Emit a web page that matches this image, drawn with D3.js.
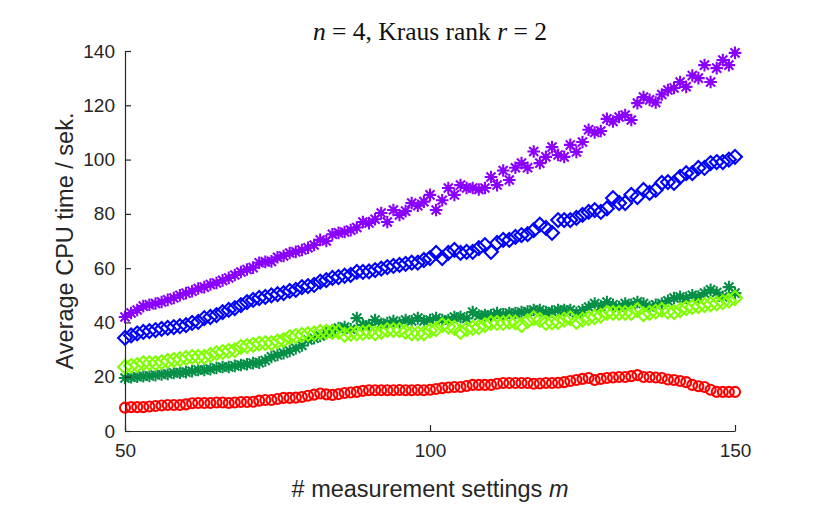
<!DOCTYPE html>
<html>
<head>
<meta charset="utf-8">
<script src="https://cdn.jsdelivr.net/npm/d3@7"></script>
<style>
    html, body { margin: 0; padding: 0; background: #fff; }
    #chart { width: 834px; height: 515px; }
</style>
</head>
<body>
<div id="chart"></div>
<script>
/**
 * Number of measurement settings m, one point per setting
 */
const settings = d3.range(50, 151);

const xTicks = [50, 100, 150];
const yTicks = [0, 20, 40, 60, 80, 100, 120, 140];

/**
 * Average CPU time (sek.) per series
 */
const purpleStars = [
    42, 43.5, 44.6, 46, 46.5, 47, 47.5, 48.3, 49, 50,
    50.8, 51.5, 52.5, 53, 54, 54.5, 55.5, 56.4, 57.5, 58.6,
    59.5, 60.2, 62, 62.3, 62.5, 64, 64.5, 65.6, 66, 66.7,
    67.5, 68.5, 70.4, 70, 72.5, 73, 73.3, 74, 75, 77,
    76.6, 78, 80.3, 77, 81.4, 79.6, 81, 84, 83, 84.5,
    87, 81.4, 85, 89.5, 87, 90.6, 89.5, 89.5, 89, 89.5,
    93.6, 90.6, 96, 92.5, 97, 98.7, 97, 103, 98.7, 101,
    104.6, 101.7, 101, 105.4, 102.8, 106.5, 111, 110, 110.5, 115,
    114, 115.7, 116.4, 114.6, 120.8, 123, 122, 121, 124, 125.6,
    126.4, 128.6, 126.8, 131, 130, 134.8, 128.6, 133.7, 136.7, 134.8,
    139.3,
];

const blueDiamonds = [
    34.3, 35.2, 36, 36.5, 36.8, 37.2, 37.6, 38, 38.3, 38.6,
    39, 39.8, 40.2, 41.6, 42, 42.7, 43.8, 44.6, 45.3, 46.4,
    47.5, 48.3, 49, 49.4, 50, 50.4, 50.8, 51.6, 52, 53,
    53.4, 53.8, 55, 55.6, 56.4, 56.7, 57.2, 57.5, 58.6, 58.6,
    58.8, 59.3, 59.8, 60.4, 60.8, 61.2, 61.6, 62, 62, 63,
    63.7, 65.6, 63.7, 65.6, 66.7, 65.6, 66, 66, 67.4, 68.5,
    66, 69.3, 70.4, 70.4, 71.5, 72.2, 72.5, 74, 76, 74.8,
    73, 77.7, 77.7, 77.7, 78.5, 79.6, 80.7, 81.4, 80.7, 82,
    85.8, 84, 84, 87, 86.2, 88.8, 87.7, 88.8, 91.4, 91.7,
    91.4, 93.6, 95, 95, 96.9, 96.9, 98.7, 99.1, 99.1, 100,
    101,
];

const darkGreenStars = [
    19.5, 19.8, 20, 20.2, 20.3, 20.6, 20.8, 21, 21.4, 21.5,
    21.7, 22, 22.5, 22.5, 22.8, 23.2, 23.6, 23.6, 24, 24.3,
    24.6, 25, 25.2, 26, 27.3, 28, 28.7, 29.5, 30.5, 31.5,
    33.5, 34.2, 35, 36, 37, 37.9, 38.3, 37.5, 41.6, 39,
    39, 40.9, 39.5, 39.8, 40.5, 39.8, 40.9, 40.5, 41.6, 40.5,
    40.9, 41.6, 40.9, 40.9, 42, 42, 41.5, 43.8, 42.5, 42.7,
    42.7, 43.5, 43, 43.5, 43.5, 43.8, 44, 44.6, 44.6, 43.8,
    44, 44.6, 44.6, 44.6, 43.5, 44.5, 45.7, 47, 46, 47.5,
    46.5, 45.7, 47, 46.5, 47.5, 47, 45.7, 46.5, 47, 48,
    49, 49.4, 49, 50, 49.5, 50.8, 52, 51, 49.4, 53,
    50.8,
];

const lightGreenDiamonds = [
    23.6, 24, 24.3, 25, 25, 25, 25.4, 25.8, 26.2, 26.5,
    26.9, 27.3, 27.3, 27.3, 28, 28.7, 29.1, 29.5, 29.8, 31,
    31.3, 31.7, 32.2, 32.4, 32.4, 33, 33.5, 34.6, 35, 35.4,
    35.7, 36, 36.5, 36.5, 36.5, 36.5, 35.4, 35.8, 36, 36.2,
    36.5, 36, 36.5, 37.2, 37.2, 37.2, 36.5, 36, 36, 36,
    37, 37.5, 39, 38.5, 38, 36.5, 37.5, 38, 38.3, 39,
    39.8, 39.8, 39.8, 40.2, 40, 39, 40.5, 41.6, 40.9, 39.8,
    40, 40.2, 41, 41.6, 40.2, 41, 41.6, 42, 42.5, 43.5,
    43.5, 43.5, 43.5, 43.5, 44.6, 43, 43.5, 44, 44.6, 44,
    43.8, 44.5, 45.3, 45.7, 46, 46.4, 46.7, 47, 47.5, 48,
    49,
];

const redCircles = [
    8.6, 8.8, 8.8, 8.8, 9, 9.2, 9.4, 9.6, 9.6, 9.6,
    9.8, 10.2, 10.3, 10.3, 10.3, 10.5, 10.5, 10.3, 10.5, 10.7,
    10.7, 10.8, 11.2, 11.4, 11.4, 11.8, 12.2, 12.2, 12.3, 12.5,
    13, 13.4, 13.8, 13.5, 13.3, 13.6, 14, 14.2, 14.4, 14.8,
    15, 15, 15, 15, 15, 15.1, 15, 15, 15.1, 15,
    15.2, 15.5, 15.8, 16, 16.2, 16.2, 16.6, 17, 17, 17,
    17, 17.4, 17.7, 17.7, 17.7, 17.7, 17.7, 17.4, 17.5, 17.7,
    17.7, 17.8, 18, 18.4, 18.8, 19.2, 19.5, 18.8, 19.2, 19.5,
    19.7, 19.9, 19.9, 20.2, 20.6, 19.9, 19.9, 19.7, 19.5, 19,
    18.8, 18.4, 18, 17, 16.5, 16.2, 15.2, 14.4, 14.4, 14.4,
    14.4,
];

/**
 * Series in drawing order, with marker shape and colour
 */
const series = [
    { values: purpleStars, marker: "star", color: "#8a00ff" },
    { values: blueDiamonds, marker: "diamond", color: "#0000ff" },
    { values: darkGreenStars, marker: "star", color: "#068f46" },
    { values: lightGreenDiamonds, marker: "diamond", color: "#80ff00" },
    { values: redCircles, marker: "circle", color: "#ff0000" },
];

const width = 834;
const height = 515;
const margin = { top: 51, right: 99, bottom: 84, left: 125 };
const axisColor = "#262626";
const sansFont = "'Liberation Sans', Arial, Helvetica, sans-serif";

const svg = d3
    .select("#chart")
    .append("svg")
    .attr("width", width)
    .attr("height", height)
    .attr("font-family", sansFont);

const x = d3
    .scaleLinear()
    .domain([50, 150])
    .range([margin.left, width - margin.right]);

const y = d3
    .scaleLinear()
    .domain([0, 140])
    .range([height - margin.bottom, margin.top]);

/**
 * Path generators for the markers, centred on 0,0
 */
const markerPaths = {
    star: (s) =>
        `M${-s},0H${s}M0,${-s}V${s}` +
        `M${-s * 0.72},${-s * 0.72}L${s * 0.72},${s * 0.72}` +
        `M${-s * 0.72},${s * 0.72}L${s * 0.72},${-s * 0.72}`,
    diamond: (s) => `M0,${-s}L${s},0L0,${s}L${-s},0Z`,
    circle: (s) => `M${s},0A${s},${s} 0 1,1 ${-s},0A${s},${s} 0 1,1 ${s},0Z`,
};

const markerSizes = { star: 6.3, diamond: 6.9, circle: 5 };

// Data markers
series.forEach((s) => {
    svg.append("g")
        .attr("fill", "none")
        .attr("stroke", s.color)
        .attr("stroke-width", 2.1)
        .selectAll("path")
        .data(s.values)
        .join("path")
        .attr("transform", (d, i) => `translate(${x(settings[i])},${y(d)})`)
        .attr("d", markerPaths[s.marker](markerSizes[s.marker]));
});

// Axes, ticks drawn inwards
const xAxis = svg
    .append("g")
    .attr("transform", `translate(0,${y(0)})`)
    .call(d3.axisBottom(x).tickValues(xTicks).tickSizeInner(-6).tickSizeOuter(0).tickPadding(13));

const yAxis = svg
    .append("g")
    .attr("transform", `translate(${x(50)},0)`)
    .call(d3.axisLeft(y).tickValues(yTicks).tickSizeInner(-6).tickSizeOuter(0).tickPadding(10));

[xAxis, yAxis].forEach((axis) => {
    axis.attr("font-family", sansFont).attr("font-size", 19);
    axis.select(".domain").attr("stroke", axisColor).attr("stroke-width", 1.2);
    axis.selectAll(".tick line").attr("stroke", axisColor).attr("stroke-width", 1.2);
    axis.selectAll(".tick text").attr("fill", axisColor);
});

// Axis labels
const xLabel = svg
    .append("text")
    .attr("x", (x(50) + x(150)) / 2)
    .attr("y", 497)
    .attr("text-anchor", "middle")
    .attr("font-size", 23.5)
    .attr("fill", axisColor);

xLabel.append("tspan").text("# measurement settings ");
xLabel.append("tspan").attr("font-style", "italic").text("m");

svg.append("text")
    .attr("transform", `translate(73,${(y(0) + y(140)) / 2}) rotate(-90)`)
    .attr("text-anchor", "middle")
    .attr("font-size", 23.5)
    .attr("fill", axisColor)
    .text("Average CPU time / sek.");

// Title, LaTeX style
const title = svg
    .append("text")
    .attr("x", (x(50) + x(150)) / 2)
    .attr("y", 40)
    .attr("text-anchor", "middle")
    .attr("font-family", "'Liberation Serif', 'DejaVu Serif', serif")
    .attr("font-size", 25.5)
    .attr("fill", "#111");

title.append("tspan").attr("font-style", "italic").text("n");
title.append("tspan").text(" = 4, Kraus rank ");
title.append("tspan").attr("font-style", "italic").text("r");
title.append("tspan").text(" = 2");
</script>
</body>
</html>
